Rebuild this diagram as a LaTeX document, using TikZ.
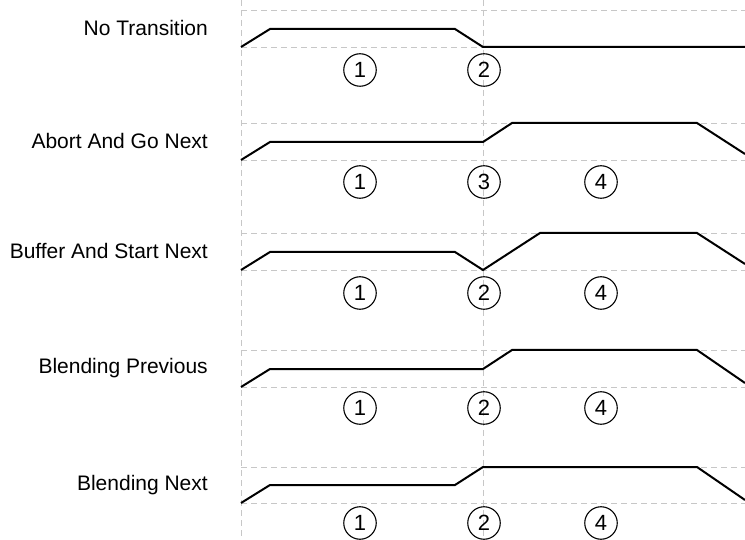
\documentclass[tikz,border=0pt]{standalone}
\usepackage{fontspec}
\setmainfont{Liberation Sans}

\tikzset{
  guide/.style={draw=black!22, dash pattern=on 6pt off 4pt, line width=0.9pt},
  profile/.style={line width=2pt},
  rowlabel/.style={anchor=east, inner sep=0pt, font=\fontsize{21}{25}\selectfont},
  phase/.style={circle, draw, line width=1.1pt, minimum size=32.5pt, inner sep=0pt,
    font=\fontsize{22}{26}\selectfont},
}

\begin{document}
\begin{tikzpicture}[x=1pt,y=-1pt]
\useasboundingbox (0,0) rectangle (745,540);
\def\xs{241}\def\xm{483}\def\xe{745}
% ---- vertical guides ----
\draw[guide] (\xs,0) -- (\xs,540);
\draw[guide] (\xm,0) -- (\xm,540);
% ---- No Transition ----
\begin{scope}[shift={(0,10)}]
\draw[guide] (\xs,0) -- (\xe,0);
\draw[guide] (\xs,37) -- (\xe,37);
\draw[profile] (\xs,37) -- (270,19) -- (455,19) -- (\xm,37) -- (\xe,37);
\node[rowlabel] (lblA) at (208,18) {No Transition};
\node[phase] (a1) at (360,60) {1};
\node[phase] (a2) at (484,60) {2};
\end{scope}
% ---- Abort And Go Next ----
\begin{scope}[shift={(0,123)}]
\draw[guide] (\xs,0) -- (\xe,0);
\draw[guide] (\xs,37) -- (\xe,37);
\draw[profile] (\xs,37) -- (270,19) -- (\xm,19) -- (512,0) -- (697,0) -- (\xe,31);
\node[rowlabel] (lblB) at (208,18) {Abort And Go Next};
\node[phase] (b1) at (360,59) {1};
\node[phase] (b3) at (484,59) {3};
\node[phase] (b4) at (601,59) {4};
\end{scope}
% ---- Buffer And Start Next ----
\begin{scope}[shift={(0,233)}]
\draw[guide] (\xs,0) -- (\xe,0);
\draw[guide] (\xs,37) -- (\xe,37);
\draw[profile] (\xs,37) -- (270,19) -- (455,19) -- (\xm,37) -- (540,0) -- (697,0) -- (\xe,31);
\node[rowlabel] (lblC) at (208,18) {Buffer And Start Next};
\node[phase] (c1) at (360,60) {1};
\node[phase] (c2) at (484,60) {2};
\node[phase] (c4) at (601,60) {4};
\end{scope}
% ---- Blending Previous ----
\begin{scope}[shift={(0,350)}]
\draw[guide] (\xs,0) -- (\xe,0);
\draw[guide] (\xs,37) -- (\xe,37);
\draw[profile] (\xs,37) -- (270,19) -- (\xm,19) -- (512,0) -- (697,0) -- (\xe,33);
\node[rowlabel] (lblD) at (208,18) {Blending Previous};
\node[phase] (d1) at (360,58) {1};
\node[phase] (d2) at (484,58) {2};
\node[phase] (d4) at (601,58) {4};
\end{scope}
% ---- Blending Next ----
\begin{scope}[shift={(0,467)}]
\draw[guide] (\xs,0) -- (\xe,0);
\draw[guide] (\xs,36) -- (\xe,36);
\draw[profile] (\xs,36) -- (270,18) -- (455,18) -- (\xm,0) -- (697,0) -- (\xe,33);
\node[rowlabel] (lblE) at (208,18) {Blending Next};
\node[phase] (e1) at (360,56) {1};
\node[phase] (e2) at (484,56) {2};
\node[phase] (e4) at (601,56) {4};
\end{scope}
\end{tikzpicture}
\end{document}
